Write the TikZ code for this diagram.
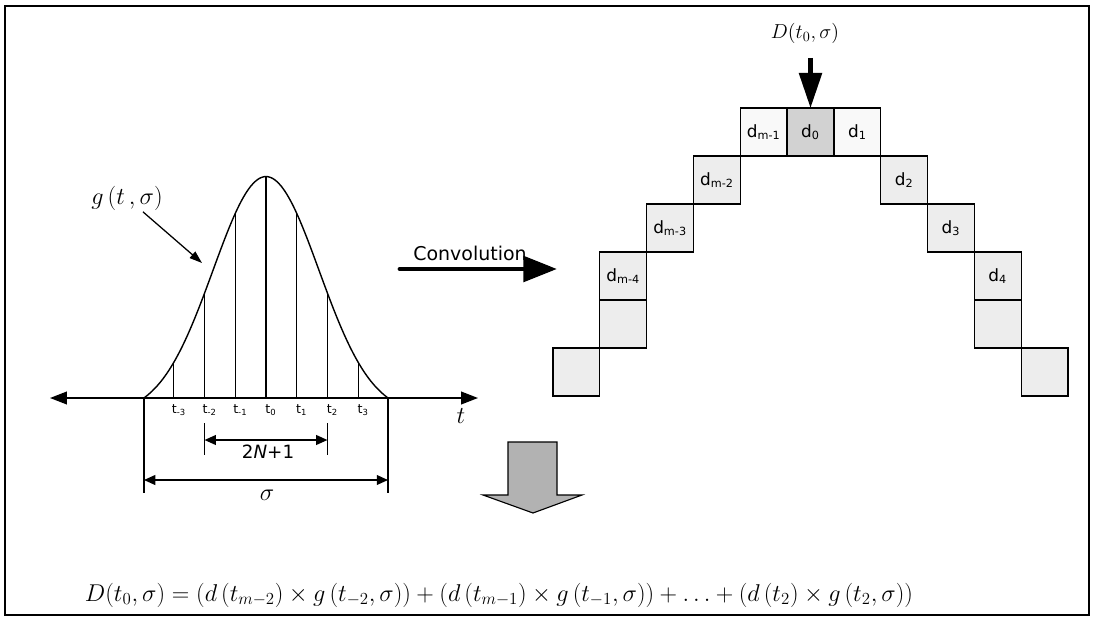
\documentclass[tikz,border=0pt]{standalone}
\usepackage{fontspec}
\setsansfont{DejaVu Sans}
\usetikzlibrary{
  arrows.meta,
  positioning,
  calc
}

\begin{document}
\begin{tikzpicture}[
      x=0.025cm, y=-0.025cm,
      cell/.style={
        rectangle, draw=black, line width=0.9pt, fill=gray!14,
        minimum width=1.17cm, minimum height=1.2cm,
        inner sep=0pt, outer sep=0pt,
        font=\sffamily\fontsize{12}{14}\selectfont
      },
      tlabel/.style={font=\sffamily\fontsize{9}{11}\selectfont, anchor=north, inner sep=1pt},
      dimline/.style={{Triangle[length=8pt,width=7pt]}-{Triangle[length=8pt,width=7pt]}, line width=0.9pt},
      extline/.style={line width=0.8pt},
      mathlabel/.style={font=\fontsize{14.4}{17}\selectfont, inner sep=1pt},
      declare function={gy(\x)=398-238.2*(exp(-0.5*((\x-266)/53)^2)-0.0705);}
    ]
      \useasboundingbox (0,0) rectangle (1096,617);
      \draw[line width=1.4pt] (5,6) rectangle (1089,615);

      % gaussian and time axis
      \coordinate (axl) at (50,398);
      \coordinate (axr) at (478,398);
      \draw[line width=1.2pt, {Triangle[length=12pt,width=9pt]}-{Triangle[length=12pt,width=9pt]}] (axl) -- (axr);
      \node[font=\fontsize{17.28}{20}\selectfont] (tvar) at (461,416) {$t$};
      \draw[line width=1pt] plot[domain=144:388, samples=90, smooth] (\x,{gy(\x)});
      \foreach \k [count=\i] in {-3,...,3} {
        \pgfmathsetmacro\tx{266+30.7*\k}
        \pgfmathsetmacro\ty{gy(\tx)}
        \draw[line width=0.8pt] (\tx,398) -- (\tx,\ty);
        \node[tlabel] (tk\i) at (\tx+5,403) {t\textsubscript{\k}};
      }

      \node[mathlabel, font=\fontsize{17.28}{20}\selectfont] (glab) at (127,198) {$g\,(t\,,\sigma)$};
      \coordinate (gtip) at (202,263);
      \draw[line width=0.9pt, -{Triangle[length=9pt,width=6pt]}] (glab) -- (gtip);

      % dimensions
      \draw[extline] (204.6,423) -- (204.6,455);
      \draw[extline] (327.4,423) -- (327.4,455);
      \coordinate (na) at (204.6,440);
      \coordinate (nb) at (327.4,440);
      \draw[dimline] (na) -- (nb);
      \node[font=\sffamily\fontsize{13}{15}\selectfont, inner sep=0pt] (nlab) at (268,452) {2\textit{N}+1};

      \draw[extline] (144,398) -- (144,493);
      \draw[extline] (388,398) -- (388,493);
      \coordinate (sa) at (144,480);
      \coordinate (sb) at (388,480);
      \draw[dimline] (sa) -- (sb);
      \node[font=\fontsize{17.28}{20}\selectfont, inner sep=0pt] (slab) at (267,495) {$\sigma$};

      % convolution
      \coordinate (cva) at (400,269);
      \coordinate (cvb) at (557,269);
      \draw[line width=3.5pt, line cap=round, -{Triangle[length=24pt,width=18pt]}] (cva) -- (cvb);
      \node[font=\sffamily\fontsize{13.5}{16}\selectfont, inner sep=0pt] (cvlab) at (470,253) {Convolution};

      % staircase of samples
      \node[cell, fill=gray!35] (d0) at (810.5,132) {d\textsubscript{0}};
      \node[cell, fill=gray!5, left=0pt of d0] (dm1) {d\textsubscript{m-1}};
      \node[cell, fill=gray!5, right=0pt of d0] (d1) {d\textsubscript{1}};
      \node[cell, below left=0pt and 0pt of dm1] (dm2) {d\textsubscript{m-2}};
      \node[cell, below left=0pt and 0pt of dm2] (dm3) {d\textsubscript{m-3}};
      \node[cell, below left=0pt and 0pt of dm3] (dm4) {d\textsubscript{m-4}};
      \node[cell, below=0pt of dm4] (el5) {};
      \node[cell, below left=0pt and 0pt of el5] (el6) {};
      \node[cell, below right=0pt and 0pt of d1] (d2) {d\textsubscript{2}};
      \node[cell, below right=0pt and 0pt of d2] (d3) {d\textsubscript{3}};
      \node[cell, below right=0pt and 0pt of d3] (d4) {d\textsubscript{4}};
      \node[cell, below=0pt of d4] (er5) {};
      \node[cell, below right=0pt and 0pt of er5] (er6) {};

      \node[mathlabel] (dlab) at (805,33) {$D(t_0,\sigma)$};
      \coordinate (dsrc) at (810.5,58);
      \draw[line width=3pt, -{Triangle[length=25pt,width=16pt]}] (dsrc) -- (d0.north);

      % result
      \draw[fill=gray!60, line width=0.8pt] (508,442) -- (557,442) -- (557,495) -- (582,495)
        -- (533,513) -- (483,495) -- (508,495) -- cycle;
      \node[font=\fontsize{17.28}{20}\selectfont, inner sep=0pt] (formula) at (499,595)
        {$D(t_0,\sigma) = (d\,(t_{m-2}) \times g\,(t_{-2},\sigma)) + (d\,(t_{m-1}) \times g\,(t_{-1},\sigma)) + \ldots + (d\,(t_2) \times g\,(t_2,\sigma))$};
    \end{tikzpicture}
\end{document}
